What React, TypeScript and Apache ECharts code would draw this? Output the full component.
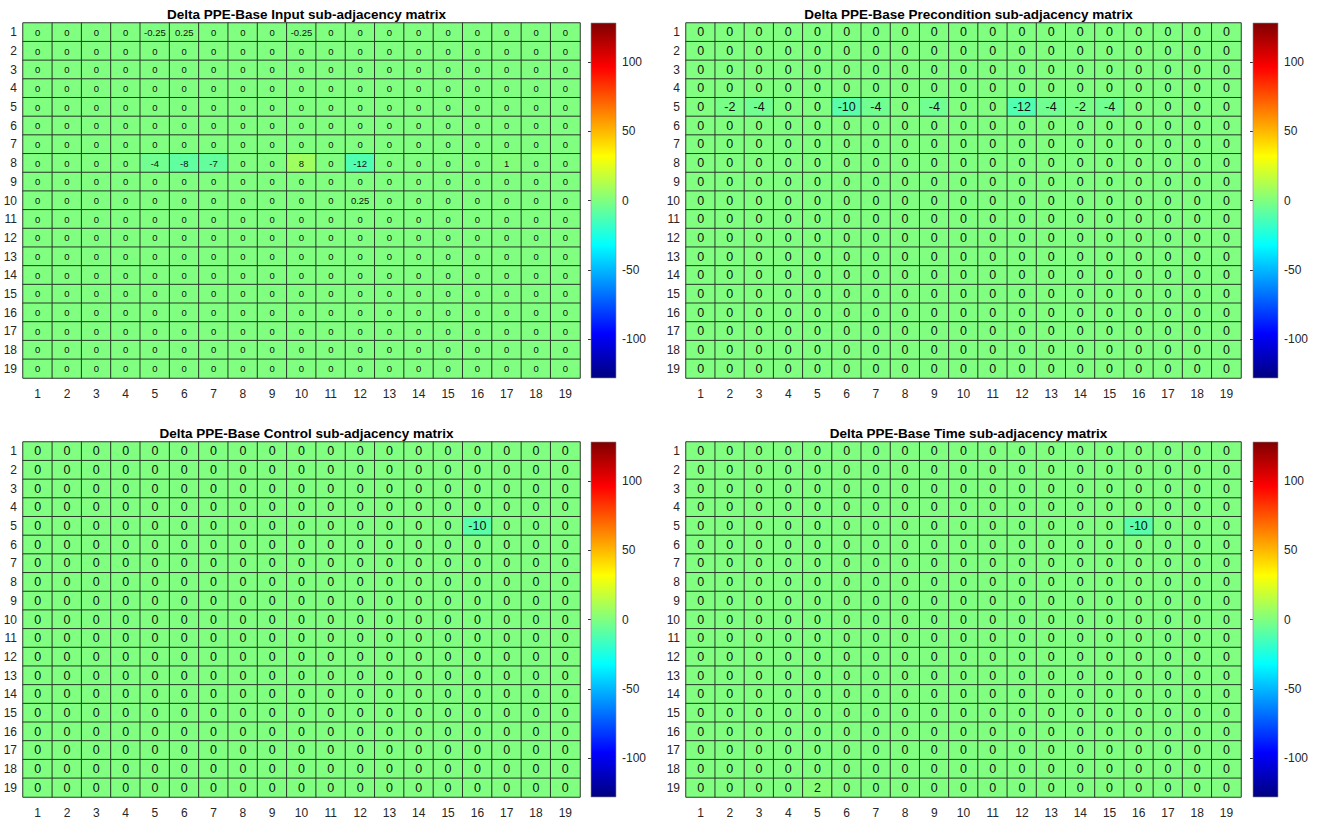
import React, { useEffect, useRef } from "react";
import * as echarts from "echarts";

const labels19 = ["1","2","3","4","5","6","7","8","9","10","11","12","13","14","15","16","17","18","19"];
const colorbarTicks = [-100, -50, 0, 50, 100];
const colorMin = -128;
const colorMax = 128;
const jetColors = ["#000080","#0000ff","#0080ff","#00ffff","#80ff80","#ffff00","#ff8000","#ff0000","#800000"];

const titles = [
  "Delta PPE-Base Input sub-adjacency matrix",
  "Delta PPE-Base Precondition sub-adjacency matrix",
  "Delta PPE-Base Control sub-adjacency matrix",
  "Delta PPE-Base Time sub-adjacency matrix",
];

const inputMatrix = [
  [0,0,0,0,-0.25,0.25,0,0,0,-0.25,0,0,0,0,0,0,0,0,0],
  [0,0,0,0,0,0,0,0,0,0,0,0,0,0,0,0,0,0,0],
  [0,0,0,0,0,0,0,0,0,0,0,0,0,0,0,0,0,0,0],
  [0,0,0,0,0,0,0,0,0,0,0,0,0,0,0,0,0,0,0],
  [0,0,0,0,0,0,0,0,0,0,0,0,0,0,0,0,0,0,0],
  [0,0,0,0,0,0,0,0,0,0,0,0,0,0,0,0,0,0,0],
  [0,0,0,0,0,0,0,0,0,0,0,0,0,0,0,0,0,0,0],
  [0,0,0,0,-4,-8,-7,0,0,8,0,-12,0,0,0,0,1,0,0],
  [0,0,0,0,0,0,0,0,0,0,0,0,0,0,0,0,0,0,0],
  [0,0,0,0,0,0,0,0,0,0,0,0.25,0,0,0,0,0,0,0],
  [0,0,0,0,0,0,0,0,0,0,0,0,0,0,0,0,0,0,0],
  [0,0,0,0,0,0,0,0,0,0,0,0,0,0,0,0,0,0,0],
  [0,0,0,0,0,0,0,0,0,0,0,0,0,0,0,0,0,0,0],
  [0,0,0,0,0,0,0,0,0,0,0,0,0,0,0,0,0,0,0],
  [0,0,0,0,0,0,0,0,0,0,0,0,0,0,0,0,0,0,0],
  [0,0,0,0,0,0,0,0,0,0,0,0,0,0,0,0,0,0,0],
  [0,0,0,0,0,0,0,0,0,0,0,0,0,0,0,0,0,0,0],
  [0,0,0,0,0,0,0,0,0,0,0,0,0,0,0,0,0,0,0],
  [0,0,0,0,0,0,0,0,0,0,0,0,0,0,0,0,0,0,0],
];

const preconditionMatrix = [
  [0,0,0,0,0,0,0,0,0,0,0,0,0,0,0,0,0,0,0],
  [0,0,0,0,0,0,0,0,0,0,0,0,0,0,0,0,0,0,0],
  [0,0,0,0,0,0,0,0,0,0,0,0,0,0,0,0,0,0,0],
  [0,0,0,0,0,0,0,0,0,0,0,0,0,0,0,0,0,0,0],
  [0,-2,-4,0,0,-10,-4,0,-4,0,0,-12,-4,-2,-4,0,0,0,0],
  [0,0,0,0,0,0,0,0,0,0,0,0,0,0,0,0,0,0,0],
  [0,0,0,0,0,0,0,0,0,0,0,0,0,0,0,0,0,0,0],
  [0,0,0,0,0,0,0,0,0,0,0,0,0,0,0,0,0,0,0],
  [0,0,0,0,0,0,0,0,0,0,0,0,0,0,0,0,0,0,0],
  [0,0,0,0,0,0,0,0,0,0,0,0,0,0,0,0,0,0,0],
  [0,0,0,0,0,0,0,0,0,0,0,0,0,0,0,0,0,0,0],
  [0,0,0,0,0,0,0,0,0,0,0,0,0,0,0,0,0,0,0],
  [0,0,0,0,0,0,0,0,0,0,0,0,0,0,0,0,0,0,0],
  [0,0,0,0,0,0,0,0,0,0,0,0,0,0,0,0,0,0,0],
  [0,0,0,0,0,0,0,0,0,0,0,0,0,0,0,0,0,0,0],
  [0,0,0,0,0,0,0,0,0,0,0,0,0,0,0,0,0,0,0],
  [0,0,0,0,0,0,0,0,0,0,0,0,0,0,0,0,0,0,0],
  [0,0,0,0,0,0,0,0,0,0,0,0,0,0,0,0,0,0,0],
  [0,0,0,0,0,0,0,0,0,0,0,0,0,0,0,0,0,0,0],
];

const controlMatrix = [
  [0,0,0,0,0,0,0,0,0,0,0,0,0,0,0,0,0,0,0],
  [0,0,0,0,0,0,0,0,0,0,0,0,0,0,0,0,0,0,0],
  [0,0,0,0,0,0,0,0,0,0,0,0,0,0,0,0,0,0,0],
  [0,0,0,0,0,0,0,0,0,0,0,0,0,0,0,0,0,0,0],
  [0,0,0,0,0,0,0,0,0,0,0,0,0,0,0,-10,0,0,0],
  [0,0,0,0,0,0,0,0,0,0,0,0,0,0,0,0,0,0,0],
  [0,0,0,0,0,0,0,0,0,0,0,0,0,0,0,0,0,0,0],
  [0,0,0,0,0,0,0,0,0,0,0,0,0,0,0,0,0,0,0],
  [0,0,0,0,0,0,0,0,0,0,0,0,0,0,0,0,0,0,0],
  [0,0,0,0,0,0,0,0,0,0,0,0,0,0,0,0,0,0,0],
  [0,0,0,0,0,0,0,0,0,0,0,0,0,0,0,0,0,0,0],
  [0,0,0,0,0,0,0,0,0,0,0,0,0,0,0,0,0,0,0],
  [0,0,0,0,0,0,0,0,0,0,0,0,0,0,0,0,0,0,0],
  [0,0,0,0,0,0,0,0,0,0,0,0,0,0,0,0,0,0,0],
  [0,0,0,0,0,0,0,0,0,0,0,0,0,0,0,0,0,0,0],
  [0,0,0,0,0,0,0,0,0,0,0,0,0,0,0,0,0,0,0],
  [0,0,0,0,0,0,0,0,0,0,0,0,0,0,0,0,0,0,0],
  [0,0,0,0,0,0,0,0,0,0,0,0,0,0,0,0,0,0,0],
  [0,0,0,0,0,0,0,0,0,0,0,0,0,0,0,0,0,0,0],
];

const timeMatrix = [
  [0,0,0,0,0,0,0,0,0,0,0,0,0,0,0,0,0,0,0],
  [0,0,0,0,0,0,0,0,0,0,0,0,0,0,0,0,0,0,0],
  [0,0,0,0,0,0,0,0,0,0,0,0,0,0,0,0,0,0,0],
  [0,0,0,0,0,0,0,0,0,0,0,0,0,0,0,0,0,0,0],
  [0,0,0,0,0,0,0,0,0,0,0,0,0,0,0,-10,0,0,0],
  [0,0,0,0,0,0,0,0,0,0,0,0,0,0,0,0,0,0,0],
  [0,0,0,0,0,0,0,0,0,0,0,0,0,0,0,0,0,0,0],
  [0,0,0,0,0,0,0,0,0,0,0,0,0,0,0,0,0,0,0],
  [0,0,0,0,0,0,0,0,0,0,0,0,0,0,0,0,0,0,0],
  [0,0,0,0,0,0,0,0,0,0,0,0,0,0,0,0,0,0,0],
  [0,0,0,0,0,0,0,0,0,0,0,0,0,0,0,0,0,0,0],
  [0,0,0,0,0,0,0,0,0,0,0,0,0,0,0,0,0,0,0],
  [0,0,0,0,0,0,0,0,0,0,0,0,0,0,0,0,0,0,0],
  [0,0,0,0,0,0,0,0,0,0,0,0,0,0,0,0,0,0,0],
  [0,0,0,0,0,0,0,0,0,0,0,0,0,0,0,0,0,0,0],
  [0,0,0,0,0,0,0,0,0,0,0,0,0,0,0,0,0,0,0],
  [0,0,0,0,0,0,0,0,0,0,0,0,0,0,0,0,0,0,0],
  [0,0,0,0,0,0,0,0,0,0,0,0,0,0,0,0,0,0,0],
  [0,0,0,0,2,0,0,0,0,0,0,0,0,0,0,0,0,0,0],
];

const matrices = [inputMatrix, preconditionMatrix, controlMatrix, timeMatrix];

const FONT = "'Liberation Sans', Arial, Helvetica, sans-serif";

const panels = [
  { left: 23, top: 23, width: 557, height: 355, cbLeft: 591, cellFont: 9.5 },
  { left: 686, top: 23, width: 555, height: 355, cbLeft: 1253, cellFont: 12.5 },
  { left: 23, top: 442, width: 557, height: 355, cbLeft: 591, cellFont: 12.5 },
  { left: 686, top: 442, width: 555, height: 355, cbLeft: 1253, cellFont: 12.5 },
];

function toHeat(m: number[][]) {
  const out: number[][] = [];
  m.forEach((row, r) => row.forEach((v, c) => out.push([c, r, v])));
  return out;
}

export default function App() {
  const ref = useRef<HTMLDivElement>(null);
  useEffect(() => {
    if (!ref.current) return;
    const chart = echarts.init(ref.current, null, { renderer: "svg" });
    const grids: any[] = [];
    const xAxes: any[] = [];
    const yAxes: any[] = [];
    const series: any[] = [];
    const titleArr: any[] = [];
    const stops = jetColors
      .slice()
      .reverse()
      .map((c, i) => ({ offset: i / (jetColors.length - 1), color: c }));

    panels.forEach((p, i) => {
      grids.push({ left: p.left, top: p.top, width: p.width, height: p.height, containLabel: false });
      xAxes.push({
        type: "category",
        data: labels19,
        gridIndex: i,
        position: "bottom",
        axisLine: { show: false },
        axisTick: { show: false },
        splitLine: { show: false },
        axisLabel: { color: "#262626", fontSize: 12, fontFamily: FONT, margin: 10 },
      });
      yAxes.push({
        type: "category",
        data: labels19,
        gridIndex: i,
        inverse: true,
        axisLine: { show: false },
        axisTick: { show: false },
        splitLine: { show: false },
        axisLabel: { color: "#262626", fontSize: 12, fontFamily: FONT, margin: 6 },
      });
      series.push({
        type: "heatmap",
        xAxisIndex: i,
        yAxisIndex: i,
        data: toHeat(matrices[i]),
        itemStyle: { borderColor: "#2b3a2b", borderWidth: 1 },
        label: {
          show: true,
          color: "#111",
          fontSize: p.cellFont,
          fontFamily: FONT,
          formatter: (pr: any) => String(pr.value[2]),
        },
        emphasis: { disabled: true },
      });
      titleArr.push({
        text: titles[i],
        left: p.left + p.width / 2,
        top: p.top - 21,
        textAlign: "center",
        textStyle: { fontSize: 13.5, fontWeight: "bold", color: "#000", fontFamily: FONT },
      });
    });

    panels.forEach((p, i) => {
      const gi = grids.length;
      grids.push({ left: p.cbLeft, top: p.top, width: 25, height: p.height });
      xAxes.push({ type: "value", gridIndex: gi, min: 0, max: 1, show: false });
      yAxes.push({
        type: "value",
        gridIndex: gi,
        min: colorMin,
        max: colorMax,
        position: "right",
        axisLine: { show: false },
        splitLine: { show: false },
        axisTick: {
          show: true,
          inside: true,
          length: 3,
          customValues: colorbarTicks,
          lineStyle: { color: "#333", width: 1 },
        },
        axisLabel: {
          customValues: colorbarTicks,
          color: "#262626",
          fontSize: 12,
          fontFamily: FONT,
          margin: 6,
        },
      });
      series.push({
        type: "custom",
        xAxisIndex: gi,
        yAxisIndex: gi,
        data: [[0, colorMin, colorMax]],
        clip: false,
        silent: true,
        z: 1,
        renderItem: (params: any, api: any) => {
          const a = api.coord([0, colorMax]);
          const b = api.coord([1, colorMin]);
          return {
            type: "rect",
            shape: { x: a[0], y: a[1], width: b[0] - a[0], height: b[1] - a[1] },
            style: {
              fill: new echarts.graphic.LinearGradient(0, 0, 0, 1, stops),
              stroke: "#8a8a8a",
              lineWidth: 0.6,
            },
          };
        },
      });
    });

    chart.setOption({
      animation: false,
      backgroundColor: "#fff",
      title: titleArr,
      grid: grids,
      xAxis: xAxes,
      yAxis: yAxes,
      visualMap: {
        show: false,
        type: "continuous",
        min: colorMin,
        max: colorMax,
        seriesIndex: [0, 1, 2, 3],
        inRange: { color: jetColors },
      },
      series,
    });
    return () => chart.dispose();
  }, []);
  return (
    <div
      ref={ref}
      style={{ position: "fixed", left: 0, top: 0, width: 1317, height: 819, background: "#fff" }}
    />
  );
}
